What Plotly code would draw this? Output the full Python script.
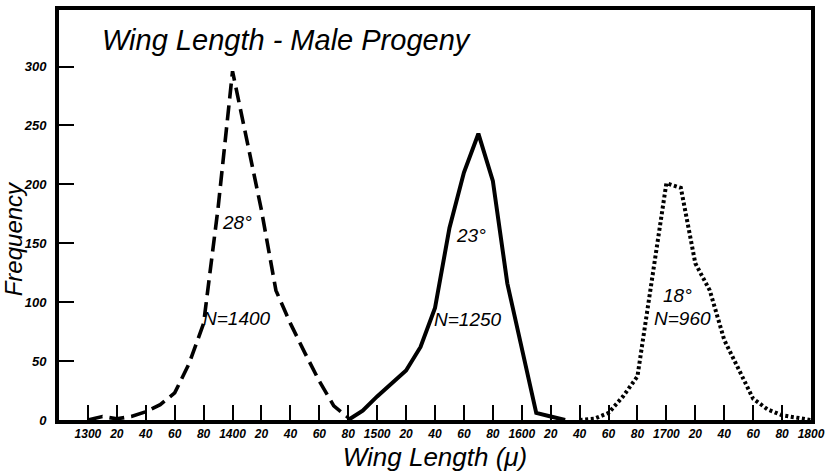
import plotly.graph_objects as go

# ---- data ----
x28 = [1300, 1310, 1320, 1330, 1340, 1350, 1360, 1370, 1380, 1390, 1400,
       1410, 1420, 1430, 1440, 1450, 1460, 1470, 1480]
y28 = [0, 3, 1, 3, 7, 13, 23, 48, 82, 180, 296, 236, 178, 110, 82, 57, 33, 12, 2]

x23 = [1480, 1490, 1500, 1510, 1520, 1530, 1540, 1550, 1560, 1570, 1580,
       1590, 1600, 1610, 1620, 1630]
y23 = [0, 8, 20, 31, 42, 62, 95, 163, 210, 243, 203, 116, 60, 6, 3, 0]

x18 = [1640, 1650, 1660, 1670, 1680, 1690, 1700, 1710, 1720, 1730, 1740,
       1750, 1760, 1770, 1780, 1790, 1800]
y18 = [0, 1, 6, 20, 37, 119, 201, 197, 133, 110, 68, 43, 18, 9, 4, 2, 0]

xtick_vals = list(range(1300, 1801, 20))
xtick_text = ["1300", "20", "40", "60", "80", "1400", "20", "40", "60", "80",
              "1500", "20", "40", "60", "80", "1600", "20", "40", "60", "80",
              "1700", "20", "40", "60", "80", "1800"]
ytick_vals = [0, 50, 100, 150, 200, 250, 300]

labels = [("28°", 1403, 168), ("N=1400", 1403, 86),
          ("23°", 1565, 157), ("N=1250", 1563, 85),
          ("18°", 1708, 106), ("N=960", 1711, 86)]

FONT = "Liberation Sans, Arial"

fig = go.Figure()
fig.add_trace(go.Scatter(x=x28, y=y28, mode="lines",
                         line=dict(color="black", width=3.6, dash="15px,7px")))
fig.add_trace(go.Scatter(x=x23, y=y23, mode="lines",
                         line=dict(color="black", width=4)))
fig.add_trace(go.Scatter(x=x18, y=y18, mode="lines",
                         line=dict(color="black", width=4, dash="3px,2.6px")))

for txt, lx, ly in labels:
    fig.add_annotation(x=lx, y=ly, xref="x", yref="y", text=txt, showarrow=False,
                       font=dict(family=FONT, size=19, color="black", style="italic"))

fig.add_annotation(x=0.055, y=0.928, xref="paper", yref="paper",
                   xanchor="left", yanchor="middle", showarrow=False,
                   text="Wing Length - Male Progeny",
                   font=dict(family=FONT, size=29, color="black", style="italic"))

# y-axis title placed as rotated text (pixel spot -> paper coords)
fig.add_annotation(x=(13 - 59) / 761, y=(420 - 237) / 414,
                   xref="paper", yref="paper", showarrow=False,
                   text="Frequency", textangle=-90,
                   xanchor="center", yanchor="middle",
                   font=dict(family=FONT, size=24, color="black", style="italic"))

fig.update_layout(
    width=831, height=474,
    margin=dict(l=59, r=11, t=6, b=54),
    plot_bgcolor="white", paper_bgcolor="white",
    showlegend=False,
    xaxis=dict(range=[1280, 1800], tickmode="array", tickvals=xtick_vals,
               ticktext=xtick_text, ticks="inside", ticklen=15, tickwidth=1.5,
               tickcolor="black", showgrid=False, zeroline=False,
               ticklabeloverflow="allow",
               showline=True, linewidth=4, linecolor="black", mirror=True,
               tickfont=dict(family=FONT, size=12, color="black",
                             style="italic", weight="bold"),
               title=dict(text="Wing Length (μ)", standoff=8,
                          font=dict(family=FONT, size=26, color="black",
                                    style="italic"))),
    yaxis=dict(range=[0, 348], tickmode="array", tickvals=ytick_vals,
               ticks="inside", ticklen=15, tickwidth=1.5, tickcolor="black",
               showgrid=False, zeroline=False, ticklabelstandoff=6,
               showline=True, linewidth=4, linecolor="black", mirror=True,
               tickfont=dict(family=FONT, size=13, color="black",
                             style="italic", weight="bold")),
)

fig.write_html("out.html")
